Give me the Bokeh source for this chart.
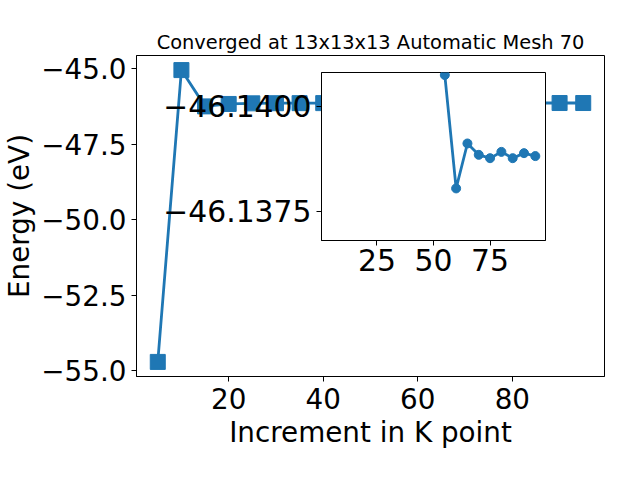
from bokeh.plotting import figure
from bokeh.models import Range1d, FixedTicker, CustomJSTickFormatter
from bokeh.embed import file_html
from bokeh.resources import INLINE

# ---- data ----
k_points = [5, 10, 15, 20, 25, 30, 35, 40, 45, 50, 55, 60, 65, 70, 75, 80, 85, 90, 95]
energies = [-54.70, -45.05, -46.25, -46.17, -46.15, -46.145, -46.143, -46.142, -46.1415,
            -46.1412, -46.14074, -46.13804, -46.13911, -46.13884, -46.13876, -46.13891,
            -46.13876, -46.13888, -46.13881]
inset_k = k_points[10:]
inset_e = energies[10:]
main_xticks = [20, 40, 60, 80]
main_yticks = [-55.0, -52.5, -50.0, -47.5, -45.0]
inset_xticks = [25, 50, 75]
inset_yticks = [-46.1400, -46.1375]
inset_ylim = (-46.1368, -46.1408)  # (bottom, top) -- inverted axis as in the reference

title_text = "Converged at 13x13x13 Automatic Mesh 70"
xlabel = "Increment in K point"
ylabel = "Energy (eV)"

COLOR = "#1f77b4"
FONT = "DejaVu Sans"
TICK_FS = "27.8px"
INSET_TICK_FS = "29.8px"


def pad(lo, hi, frac=0.05):
    d = (hi - lo) * frac
    return lo - d, hi + d


x0, x1 = pad(min(k_points), max(k_points))
y0, y1 = pad(min(energies), max(energies))

p = figure(x_range=Range1d(x0, x1), y_range=Range1d(y0, y1),
           width=640, height=480,
           min_border_left=135, min_border_right=36, min_border_top=55, min_border_bottom=104,
           output_backend="svg", toolbar_location=None, title=title_text)
p.title.text_font = FONT
p.title.text_font_size = "19.4px"
p.title.text_font_style = "normal"
p.title.text_color = "black"
p.title.align = "center"
p.title.standoff = 4

p.grid.visible = False
p.outline_line_color = "black"
p.outline_line_width = 1
p.background_fill_color = "white"
p.border_fill_color = "white"

for ax in (p.xaxis[0], p.yaxis[0]):
    ax.major_label_text_font = FONT
    ax.major_label_text_font_size = TICK_FS
    ax.major_label_text_color = "black"
    ax.axis_label_text_font = FONT
    ax.axis_label_text_font_size = "27.8px"
    ax.axis_label_text_font_style = "normal"
    ax.axis_label_text_color = "black"
    ax.major_tick_in = 0
    ax.major_tick_out = 5
    ax.major_tick_line_color = "black"
    ax.minor_tick_line_color = None
    ax.axis_line_color = "black"

p.xaxis.major_label_standoff = 6
p.xaxis.axis_label_standoff = 4
p.yaxis.major_label_standoff = 5
p.yaxis.axis_label_standoff = 2

p.xaxis.ticker = FixedTicker(ticks=main_xticks)
p.yaxis.ticker = FixedTicker(ticks=main_yticks)
p.yaxis.formatter = CustomJSTickFormatter(code="return tick.toFixed(1).replace('-', '\u2212');")
p.xaxis.axis_label = xlabel
p.yaxis.axis_label = ylabel

p.line(k_points, energies, line_color=COLOR, line_width=2.8)
p.scatter(k_points, energies, marker="square", size=15, fill_color=COLOR, line_color=COLOR)

# ---- inset (separate root, absolutely positioned over the main plot) ----
IL, IT = 175, 10
inset = figure(x_range=Range1d(x0, x1), y_range=Range1d(inset_ylim[0], inset_ylim[1]),
               width=IL + 224 + 8, height=IT + 168 + 50,
               min_border_left=IL, min_border_right=8, min_border_top=IT, min_border_bottom=50,
               output_backend="svg", toolbar_location=None,
               styles={"position": "absolute", "left": f"{321 - IL}px", "top": f"{72 - IT}px"})
inset.grid.visible = False
inset.outline_line_color = "black"
inset.outline_line_width = 1
inset.background_fill_color = "white"
inset.border_fill_color = None
inset.border_fill_alpha = 0

for ax in (inset.xaxis[0], inset.yaxis[0]):
    ax.major_label_text_font = FONT
    ax.major_label_text_font_size = INSET_TICK_FS
    ax.major_label_text_color = "black"
    ax.major_tick_in = 0
    ax.major_tick_out = 5
    ax.major_tick_line_color = "black"
    ax.minor_tick_line_color = None
    ax.axis_line_color = "black"
inset.xaxis.major_label_standoff = 3
inset.yaxis.major_label_standoff = 5

inset.xaxis.ticker = FixedTicker(ticks=inset_xticks)
inset.yaxis.ticker = FixedTicker(ticks=inset_yticks)
inset.yaxis.formatter = CustomJSTickFormatter(code="return tick.toFixed(4).replace('-', '\u2212');")

inset.line(inset_k, inset_e, line_color=COLOR, line_width=2.8)
inset.scatter(inset_k, inset_e, marker="circle", size=9, fill_color=COLOR, line_color=COLOR)

open("out.html", "w").write(file_html([p, inset], INLINE))
